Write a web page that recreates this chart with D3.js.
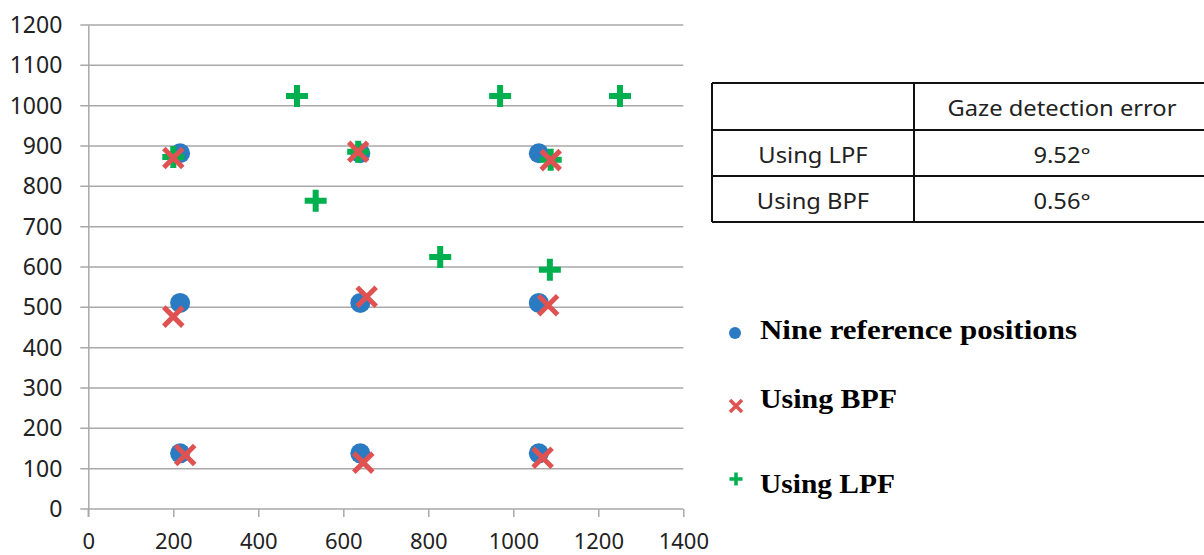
<!DOCTYPE html>
<html>
<head>
<meta charset="utf-8">
<script src="https://cdn.jsdelivr.net/npm/d3@7"></script>
<style>
  body { margin: 0; background: #fff; }
  svg { display: block; }
</style>
</head>
<body>
<svg id="chart" width="1204" height="555"></svg>
<script>
// values
const xTicks = [0, 200, 400, 600, 800, 1000, 1200, 1400];
const yTicks = [0, 100, 200, 300, 400, 500, 600, 700, 800, 900, 1000, 1100, 1200];

const refX = [216, 640, 1060, 216, 640, 1060, 216, 640, 1060];
const refY = [882, 882, 882, 511, 511, 511, 138, 138, 138];

const bpfX = [200, 635, 1088, 200, 655, 1082, 228, 647, 1069];
const bpfY = [870, 886, 865, 477, 526, 505, 134, 115, 127];

const lpfX = [200, 635, 1088, 491, 969, 1251, 535, 828, 1086];
const lpfY = [873, 886, 866, 1024, 1024, 1024, 764, 625, 593];

const tableHeader = ["", "Gaze detection error"];
const tableRows = [["Using LPF", "9.52°"], ["Using BPF", "0.56°"]];

const legendLabels = ["Nine reference positions", "Using BPF", "Using LPF"];

const blue = "#2b7bc3", red = "#e05252", green = "#00b04f";
const gridColor = "#a9a9a9";

const svg = d3.select("#chart");

const x = d3.scaleLinear().domain([0, 1400]).range([88.3, 683.3]);
const y = d3.scaleLinear().domain([0, 1200]).range([509, 25]);

// gridlines
svg.append("g")
  .selectAll("line")
  .data(yTicks)
  .join("line")
    .attr("x1", x(0) - 8)
    .attr("x2", x(1400))
    .attr("y1", d => y(d))
    .attr("y2", d => y(d))
    .attr("stroke", gridColor)
    .attr("stroke-width", 1.5);

// y axis
let yAxis = svg.append("g")
  .attr("transform", `translate(${x(0)},0)`)
  .call(d3.axisLeft(y).tickValues(yTicks).tickFormat(d3.format("d")).tickSize(0).tickPadding(26));
yAxis.select(".domain").attr("stroke", gridColor).attr("stroke-width", 1.5);
yAxis.selectAll("text")
  .attr("font-family", "'Noto Sans', sans-serif")
  .attr("font-size", 23)
  .attr("fill", "#222");

// x axis
let xAxis = svg.append("g")
  .attr("transform", `translate(0,${y(0)})`)
  .call(d3.axisBottom(x).tickValues(xTicks).tickFormat(d3.format("d")).tickSize(8).tickSizeOuter(0).tickPadding(16));
xAxis.select(".domain").remove();
xAxis.selectAll("line").attr("stroke", gridColor).attr("stroke-width", 1.5);
xAxis.selectAll("text")
  .attr("font-family", "'Noto Sans', sans-serif")
  .attr("font-size", 22)
  .attr("fill", "#222");

// y axis line extends down past zero
svg.append("line")
  .attr("x1", x(0)).attr("x2", x(0))
  .attr("y1", y(0)).attr("y2", y(0) + 8)
  .attr("stroke", gridColor).attr("stroke-width", 1.5);

function xSize(r) { return Math.pow(r / 0.6189, 2) + 1.7; }
function plusSize(r) { return Math.pow(r / 0.87559, 2) + 2; }

// reference circles
svg.append("g")
  .selectAll("circle")
  .data(d3.zip(refX, refY))
  .join("circle")
    .attr("cx", d => x(d[0]))
    .attr("cy", d => y(d[1]))
    .attr("r", 10)
    .attr("fill", blue);

// LPF pluses
svg.append("g")
  .selectAll("path")
  .data(d3.zip(lpfX, lpfY))
  .join("path")
    .attr("transform", d => `translate(${x(d[0])},${y(d[1])})`)
    .attr("d", d3.symbol().type(d3.symbolPlus).size(plusSize(11)))
    .attr("fill", "none")
    .attr("stroke", green)
    .attr("stroke-width", 6);

// BPF crosses
svg.append("g")
  .selectAll("path")
  .data(d3.zip(bpfX, bpfY))
  .join("path")
    .attr("transform", d => `translate(${x(d[0])},${y(d[1])})`)
    .attr("d", d3.symbol().type(d3.symbolX).size(xSize(9.5)))
    .attr("fill", "none")
    .attr("stroke", red)
    .attr("stroke-width", 5);

// table
const tblX = [712, 914, 1214];
const tblY = [83, 130, 176, 222];
const tbl = svg.append("g");
tbl.selectAll("line.h")
  .data(tblY)
  .join("line")
    .attr("class", "h")
    .attr("x1", tblX[0]).attr("x2", tblX[2])
    .attr("y1", d => d).attr("y2", d => d)
    .attr("stroke", "#111").attr("stroke-width", 2);
tbl.selectAll("line.v")
  .data(tblX.slice(0, 2))
  .join("line")
    .attr("class", "v")
    .attr("x1", d => d).attr("x2", d => d)
    .attr("y1", tblY[0]).attr("y2", tblY[3])
    .attr("stroke", "#111").attr("stroke-width", 2);

const cells = [tableHeader, ...tableRows];
cells.forEach((row, i) => {
  row.forEach((txt, j) => {
    const cx = j === 0 ? 813 : 1062;
    const cy = (tblY[i] + tblY[i + 1]) / 2 + 9.5;
    tbl.append("text")
      .attr("transform", `translate(${cx},${cy}) scale(1.13,1)`)
      .attr("text-anchor", "middle")
      .attr("font-family", "'Noto Sans', sans-serif")
      .attr("font-size", 21)
      .attr("fill", "#222")
      .text(txt);
  });
});

// legend
const legendWidths = [317, 137, 135];
const leg = svg.append("g");
leg.append("circle")
  .attr("cx", 735).attr("cy", 333).attr("r", 6).attr("fill", blue);
leg.append("path")
  .attr("transform", "translate(736,406)")
  .attr("d", d3.symbol().type(d3.symbolX).size(xSize(6)))
  .attr("fill", "none").attr("stroke", red).attr("stroke-width", 3.5);
leg.append("path")
  .attr("transform", "translate(736,479)")
  .attr("d", d3.symbol().type(d3.symbolPlus).size(plusSize(6.5)))
  .attr("fill", "none").attr("stroke", green).attr("stroke-width", 3.5);

leg.selectAll("text")
  .data(legendLabels)
  .join("text")
    .attr("x", 760)
    .attr("y", (d, i) => [339, 408, 493][i])
    .attr("font-family", "'Liberation Serif', 'Times New Roman', serif")
    .attr("font-weight", "bold")
    .attr("font-size", 28)
    .attr("textLength", (d, i) => legendWidths[i])
    .attr("lengthAdjust", "spacingAndGlyphs")
    .attr("fill", "#000")
    .text(d => d);
</script>
</body>
</html>
